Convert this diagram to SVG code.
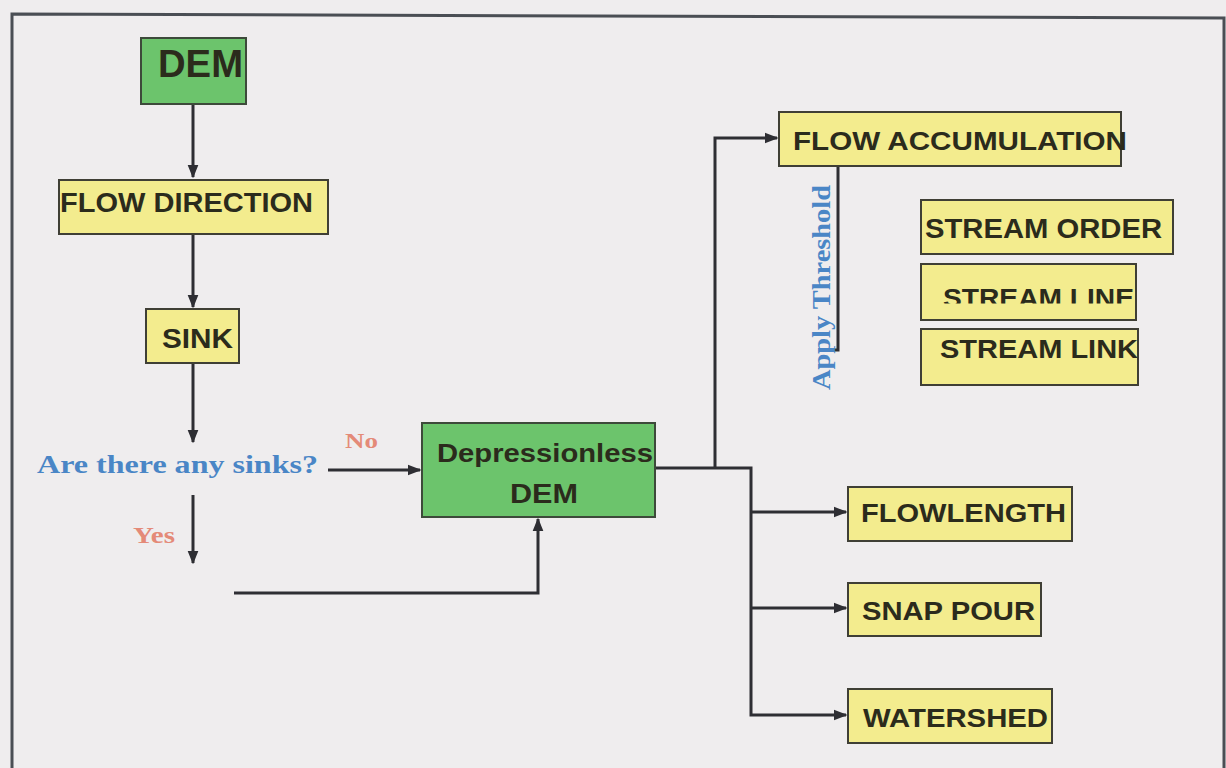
<svg xmlns="http://www.w3.org/2000/svg" width="1226" height="768" viewBox="0 0 1226 768">
<style>
.g{fill:#6cc46c;stroke:#3d4a3a;stroke-width:2}
.y{fill:#f3ec8e;stroke:#3f3f35;stroke-width:2}
.t{font-family:"Liberation Sans",Arial,sans-serif;font-weight:bold;fill:#2b2b1c}
.c{fill:none;stroke:#2e2e33;stroke-width:3}
.q{font-family:"Liberation Serif","Times New Roman",serif;font-weight:bold;fill:#4a86c6}
.r{font-family:"Liberation Serif","Times New Roman",serif;font-weight:bold;fill:#e48a78}
</style>
<defs>
<marker id="ah" viewBox="0 0 10 10" refX="9" refY="5" markerWidth="4.5" markerHeight="4.5" orient="auto" markerUnits="strokeWidth">
<path d="M0,1 L10,5 L0,9 z" fill="#2e2e33"/>
</marker>
<clipPath id="clipLine"><rect x="920" y="265" width="216" height="38.5"/></clipPath>
</defs>
<rect x="0" y="0" width="1226" height="768" fill="#efedee"/>
<g id="frame" fill="none" stroke="#4a4e54" stroke-width="3">
<path d="M12,768 L12,14 L1224,18 L1224,768"/>
</g>
<g id="connectors">
<path class="c" d="M193,104 L193,177" marker-end="url(#ah)"/>
<path class="c" d="M193,234 L193,307" marker-end="url(#ah)"/>
<path class="c" d="M193,363 L193,442" marker-end="url(#ah)"/>
<path class="c" d="M328,470 L420,470" marker-end="url(#ah)"/>
<path class="c" d="M193,495 L193,563" marker-end="url(#ah)"/>
<path class="c" d="M234,593 L538,593 L538,519" marker-end="url(#ah)"/>
<path class="c" d="M655,468 L751,468 L751,715 L846,715" marker-end="url(#ah)"/>
<path class="c" d="M715,468 L715,138 L777,138" marker-end="url(#ah)"/>
<path class="c" d="M751,512 L846,512" marker-end="url(#ah)"/>
<path class="c" d="M751,608 L846,608" marker-end="url(#ah)"/>
<path class="c" d="M838,166 L838,350 L833,350"/>
<text class="q" transform="translate(830,390) rotate(-90)" font-size="26" textLength="205" lengthAdjust="spacingAndGlyphs">Apply Threshold</text>
<text class="r" x="345" y="448" font-size="22" textLength="33" lengthAdjust="spacingAndGlyphs">No</text>
<text class="r" x="133" y="543" font-size="23" textLength="42" lengthAdjust="spacingAndGlyphs">Yes</text>
</g>
<g id="dem">
<rect class="g" x="141" y="38" width="105" height="66"/>
<text class="t" x="158" y="77" font-size="38" textLength="85" lengthAdjust="spacingAndGlyphs">DEM</text>
</g>
<g id="flow-direction">
<rect class="y" x="59" y="180" width="269" height="54"/>
<text class="t" x="60" y="212" font-size="27" textLength="253" lengthAdjust="spacingAndGlyphs">FLOW DIRECTION</text>
</g>
<g id="sink">
<rect class="y" x="146" y="309" width="93" height="54"/>
<text class="t" x="162" y="348" font-size="28" textLength="71" lengthAdjust="spacingAndGlyphs">SINK</text>
</g>
<g id="question">
<text class="q" x="37" y="473" font-size="26" textLength="281" lengthAdjust="spacingAndGlyphs">Are there any sinks?</text>
</g>
<g id="depressionless-dem">
<rect class="g" x="422" y="423" width="233" height="94"/>
<text class="t" x="437" y="462" font-size="26" textLength="216" lengthAdjust="spacingAndGlyphs">Depressionless</text>
<text class="t" x="510" y="503" font-size="27" textLength="68" lengthAdjust="spacingAndGlyphs">DEM</text>
</g>
<g id="flow-accumulation">
<rect class="y" x="779" y="112" width="342" height="54"/>
<text class="t" x="793" y="150" font-size="25" textLength="334" lengthAdjust="spacingAndGlyphs">FLOW ACCUMULATION</text>
</g>
<g id="stream-order">
<rect class="y" x="921" y="200" width="252" height="54"/>
<text class="t" x="925" y="238" font-size="27" textLength="237" lengthAdjust="spacingAndGlyphs">STREAM ORDER</text>
</g>
<g id="stream-line">
<rect class="y" x="921" y="264" width="215" height="56"/>
<text class="t" x="943" y="307" font-size="26" textLength="191" lengthAdjust="spacingAndGlyphs" clip-path="url(#clipLine)">STREAM LINE</text>
</g>
<g id="stream-link">
<rect class="y" x="921" y="329" width="217" height="56"/>
<text class="t" x="940" y="358" font-size="25" textLength="198" lengthAdjust="spacingAndGlyphs">STREAM LINK</text>
</g>
<g id="flowlength">
<rect class="y" x="848" y="487" width="224" height="54"/>
<text class="t" x="861" y="522" font-size="26" textLength="205" lengthAdjust="spacingAndGlyphs">FLOWLENGTH</text>
</g>
<g id="snap-pour">
<rect class="y" x="848" y="583" width="193" height="53"/>
<text class="t" x="862" y="620" font-size="26" textLength="173" lengthAdjust="spacingAndGlyphs">SNAP POUR</text>
</g>
<g id="watershed">
<rect class="y" x="848" y="689" width="204" height="54"/>
<text class="t" x="863" y="727" font-size="26" textLength="185" lengthAdjust="spacingAndGlyphs">WATERSHED</text>
</g>
</svg>
